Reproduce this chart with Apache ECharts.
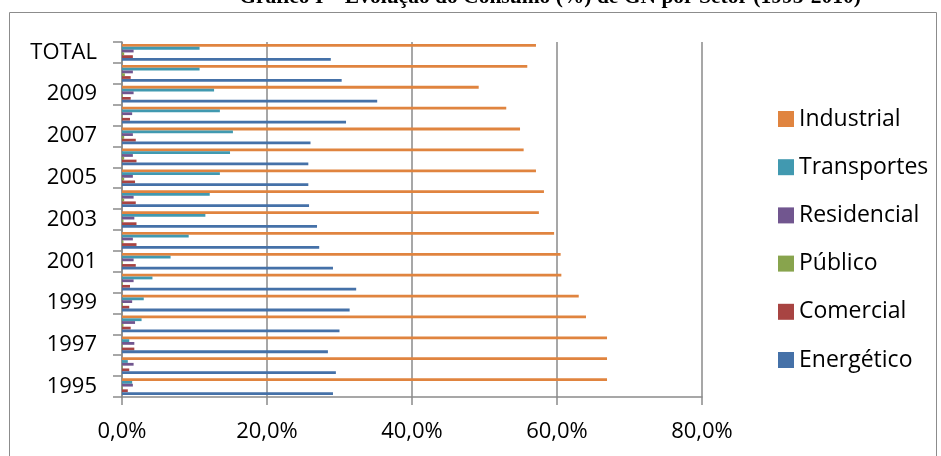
<!DOCTYPE html>
<html lang="pt">
<head>
    <meta charset="UTF-8">
    <title>Evolução do Consumo de GN por Setor</title>
    <style>
        html, body {
            margin: 0;
            padding: 0;
            background: #ffffff;
        }
        #main {
            width: 941px;
            height: 456px;
        }
    </style>
    <script type="text/javascript" src="https://cdn.jsdelivr.net/npm/echarts@6/dist/echarts.min.js"></script>
</head>
<body>
<div id="main"></div>
<script type="text/javascript">
    // categorias de baixo para cima (1995 ... 2010, TOTAL)
    var anos = ['1995', '1996', '1997', '1998', '1999', '2000', '2001', '2002', '2003',
        '2004', '2005', '2006', '2007', '2008', '2009', '2010', 'TOTAL'];
    var xTicks = [0, 20, 40, 60, 80];

    // valores em %
    var energetico = [29.1, 29.5, 28.4, 30.0, 31.4, 32.3, 29.1, 27.2, 26.9, 25.8, 25.7, 25.7, 26.0, 30.9, 35.2, 30.3, 28.8];
    var comercial = [0.8, 1.0, 1.7, 1.2, 1.0, 1.1, 1.9, 2.0, 2.0, 1.9, 1.8, 2.0, 1.9, 1.1, 1.2, 1.2, 1.5];
    var publico = [0.1, 0.1, 0.1, 0.2, 0.1, 0.1, 0.1, 0.2, 0.2, 0.3, 0.3, 0.3, 0.3, 0.1, 0.1, 0.4, 0.3];
    var residencial = [1.5, 1.6, 1.7, 1.8, 1.4, 1.6, 1.6, 1.5, 1.7, 1.6, 1.5, 1.5, 1.5, 1.4, 1.6, 1.5, 1.6];
    var transportes = [1.4, 0.8, 1.0, 2.7, 3.0, 4.2, 6.7, 9.2, 11.5, 12.1, 13.5, 14.9, 15.3, 13.5, 12.7, 10.7, 10.7];
    var industrial = [66.9, 66.9, 66.9, 64.0, 63.0, 60.6, 60.5, 59.6, 57.5, 58.2, 57.1, 55.4, 54.9, 53.0, 49.2, 55.9, 57.1];

    var fonte = '"Open Sans", "Liberation Sans", sans-serif';
    var cinza = '#8a8a8a';

    // ordem de cima para baixo dentro de cada categoria
    var setores = [
        {name: 'Industrial', data: industrial, color: '#e0843f'},
        {name: 'Transportes', data: transportes, color: '#4199b0'},
        {name: 'Residencial', data: residencial, color: '#71568f'},
        {name: 'Público', data: publico, color: '#88a44d'},
        {name: 'Comercial', data: comercial, color: '#a84442'},
        {name: 'Energético', data: energetico, color: '#4571a8'}
    ];

    var series = [];
    for (var i = 0; i < setores.length; i++) {
        series.push({
            name: setores[i].name,
            type: 'bar',
            data: setores[i].data,
            barCategoryGap: '20%',
            barGap: '0%',
            itemStyle: {color: setores[i].color},
            emphasis: {disabled: true}
        });
    }

    var chart = echarts.init(document.getElementById('main'));
    var option = {
        backgroundColor: '#ffffff',
        animation: false,
        graphic: [
            {
                type: 'rect',
                shape: {x: 9.5, y: 12.5, width: 927, height: 470},
                style: {fill: 'none', stroke: '#8c8c8c', lineWidth: 1},
                silent: true
            },
            {
                type: 'text',
                x: 550,
                y: -3,
                style: {
                    text: 'Gráfico I – Evolução do Consumo (%) de GN por Setor (1995-2010)',
                    font: 'bold 21.5px "Liberation Serif", "Times New Roman", serif',
                    fill: '#000000',
                    align: 'center',
                    verticalAlign: 'middle'
                },
                silent: true
            }
        ],
        legend: {
            orient: 'vertical',
            left: 773,
            top: 102,
            icon: 'rect',
            itemWidth: 16,
            itemHeight: 16,
            itemGap: 24.2,
            textStyle: {
                fontFamily: fonte,
                fontSize: 23,
                lineHeight: 24,
                color: '#000000'
            },
            data: ['Industrial', 'Transportes', 'Residencial', 'Público', 'Comercial', 'Energético']
        },
        grid: {
            left: 122,
            right: 239,
            top: 42,
            bottom: 59
        },
        xAxis: {
            type: 'value',
            min: xTicks[0],
            max: xTicks[xTicks.length - 1],
            interval: 20,
            axisLine: {show: true, lineStyle: {color: cinza, width: 1.5}},
            axisTick: {show: true, length: 8, lineStyle: {color: cinza, width: 1.5}},
            axisLabel: {
                margin: 24,
                fontFamily: fonte,
                fontSize: 22,
                color: '#000000',
                formatter: function (v) {
                    return v.toFixed(1).replace('.', ',') + '%';
                }
            },
            splitLine: {show: true, lineStyle: {color: cinza, width: 1.5}}
        },
        yAxis: {
            type: 'category',
            data: anos,
            axisLine: {show: true, lineStyle: {color: cinza, width: 1.5}},
            axisTick: {show: true, interval: 0, length: 9, lineStyle: {color: cinza, width: 1.5}},
            axisLabel: {
                interval: 1,
                margin: 25,
                fontFamily: fonte,
                fontSize: 22,
                color: '#000000'
            },
            splitLine: {show: false}
        },
        series: series
    };
    chart.setOption(option);
</script>
</body>
</html>
